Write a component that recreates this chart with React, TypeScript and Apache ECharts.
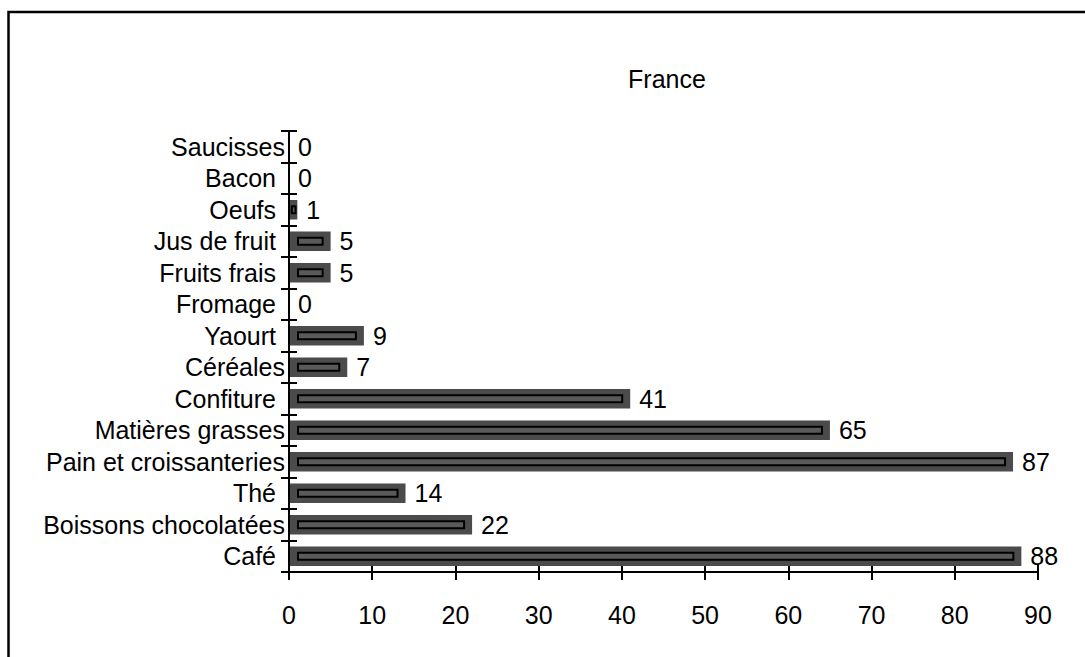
import React, { useEffect, useRef } from "react";
import * as echarts from "echarts";

const categories = [
  "Café",
  "Boissons chocolatées",
  "Thé",
  "Pain et croissanteries",
  "Matières grasses",
  "Confiture",
  "Céréales",
  "Yaourt",
  "Fromage",
  "Fruits frais",
  "Jus de fruit",
  "Oeufs",
  "Bacon",
  "Saucisses",
];
const values = [88, 22, 14, 87, 65, 41, 7, 9, 0, 5, 5, 1, 0, 0];
const xTicks = [0, 10, 20, 30, 40, 50, 60, 70, 80, 90];
const paddedLabels = new Set([
  "Café",
  "Thé",
  "Confiture",
  "Yaourt",
  "Fromage",
  "Fruits frais",
  "Jus de fruit",
  "Oeufs",
  "Bacon",
]);
const titleText = "France";

const FONT = "'Liberation Sans', Arial, Helvetica, sans-serif";
const FS = 25;

export default function App() {
  const ref = useRef<HTMLDivElement>(null);
  useEffect(() => {
    if (!ref.current) return;
    const chart = echarts.init(ref.current, undefined, { renderer: "svg" });
    const axisCommonX = {
      type: "value" as const,
      min: xTicks[0],
      max: xTicks[xTicks.length - 1],
      interval: 10,
      position: "bottom" as const,
      splitLine: { show: false },
      axisLine: { show: true, lineStyle: { color: "#000", width: 2 } },
    };
    const axisCommonY = {
      type: "category" as const,
      data: categories,
      position: "left" as const,
      splitLine: { show: false },
      axisLine: { show: true, lineStyle: { color: "#000", width: 2 } },
    };
    chart.setOption({
      animation: false,
      backgroundColor: "#fff",
      textStyle: { fontFamily: FONT },
      graphic: [
        {
          type: "rect",
          shape: { x: 8.5, y: 12, width: 1300, height: 900 },
          style: { fill: "none", stroke: "#000", lineWidth: 2.5 },
          silent: true,
          z: -10,
        },
        {
          type: "text",
          x: 667,
          y: 79,
          style: {
            text: titleText,
            font: `${FS}px ${FONT}`,
            fill: "#000",
            align: "center",
            verticalAlign: "middle",
          },
        },
      ],
      grid: { left: 289, right: 47, top: 131, bottom: 85 },
      xAxis: [
        {
          ...axisCommonX,
          axisTick: { show: true, inside: true, length: 8, lineStyle: { color: "#000", width: 2 } },
          axisLabel: { show: true, color: "#000", fontSize: FS, fontFamily: FONT, margin: 30, hideOverlap: false },
        },
        {
          ...axisCommonX,
          axisTick: { show: true, inside: false, length: 8, lineStyle: { color: "#000", width: 2 } },
          axisLabel: { show: false },
        },
      ],
      yAxis: [
        {
          ...axisCommonY,
          axisTick: { show: true, inside: false, length: 8, interval: 0, lineStyle: { color: "#000", width: 2 } },
          axisLabel: {
            show: true,
            interval: 0,
            hideOverlap: false,
            color: "#000",
            fontSize: FS,
            fontFamily: FONT,
            margin: 4,
            formatter: (v: string) => (paddedLabels.has(v) ? `{p|${v}}` : `{n|${v}}`),
            rich: {
              p: { fontSize: FS, fontFamily: FONT, color: "#000", padding: [0, 9, 0, 0] },
              n: { fontSize: FS, fontFamily: FONT, color: "#000" },
            },
          },
        },
        {
          ...axisCommonY,
          axisTick: { show: true, inside: true, length: 8, interval: 0, lineStyle: { color: "#000", width: 2 } },
          axisLabel: { show: false },
        },
      ],
      series: [
        {
          type: "custom",
          xAxisIndex: 0,
          yAxisIndex: 0,
          data: values.map((v, i) => [v, i]),
          encode: { x: 0, y: 1 },
          renderItem: (params: any, api: any) => {
            const v = api.value(0);
            const idx = api.value(1);
            const start = api.coord([0, idx]);
            const end = api.coord([v, idx]);
            const band = api.size([0, 1])[1];
            const h = band * 0.62;
            const cy = start[1];
            const x0 = start[0] + 1;
            const w = end[0] - x0;
            const children: any[] = [];
            if (v > 0 && w > 0) {
              children.push({
                type: "rect",
                shape: { x: x0, y: cy - h / 2, width: w, height: h },
                style: { fill: "#4b4b4b", stroke: "none" },
              });
              const inset = Math.min(8, w / 4);
              children.push({
                type: "rect",
                shape: { x: x0 + inset, y: cy - 3.5, width: w - inset * 2, height: 7 },
                style: { fill: "#5a5a5a", stroke: "#000", lineWidth: 2 },
              });
            }
            children.push({
              type: "text",
              x: end[0] + 9,
              y: cy,
              style: {
                text: String(v),
                font: `${FS}px ${FONT}`,
                fill: "#000",
                align: "left",
                verticalAlign: "middle",
              },
            });
            return { type: "group", children };
          },
        },
      ],
    });
    return () => chart.dispose();
  }, []);
  return (
    <div
      ref={ref}
      style={{ position: "fixed", left: 0, top: 0, width: 1085, height: 657, background: "#fff" }}
    />
  );
}
